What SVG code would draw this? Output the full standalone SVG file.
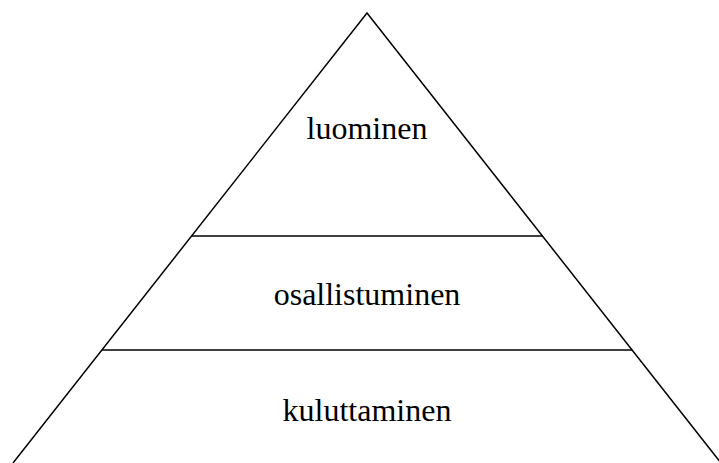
<svg xmlns="http://www.w3.org/2000/svg" width="719" height="463" viewBox="0 0 719 463">
<style>
.ln{stroke:#000;stroke-width:1.5;fill:none}
.t{font-family:"Liberation Serif","Times New Roman",serif;font-size:32px;fill:#000;text-anchor:middle}
</style>
<rect width="719" height="463" fill="#fff"/>
<g id="connectors">
<path class="ln" d="M13,463 L367,13 L721,463"/>
<line class="ln" x1="191.5" y1="236" x2="542.5" y2="236"/>
<line class="ln" x1="101.8" y1="350" x2="632.2" y2="350"/>
</g>
<g id="luominen"><text class="t" x="367" y="139">luominen</text></g>
<g id="osallistuminen"><text class="t" x="367" y="305">osallistuminen</text></g>
<g id="kuluttaminen"><text class="t" x="367" y="421">kuluttaminen</text></g>
</svg>
